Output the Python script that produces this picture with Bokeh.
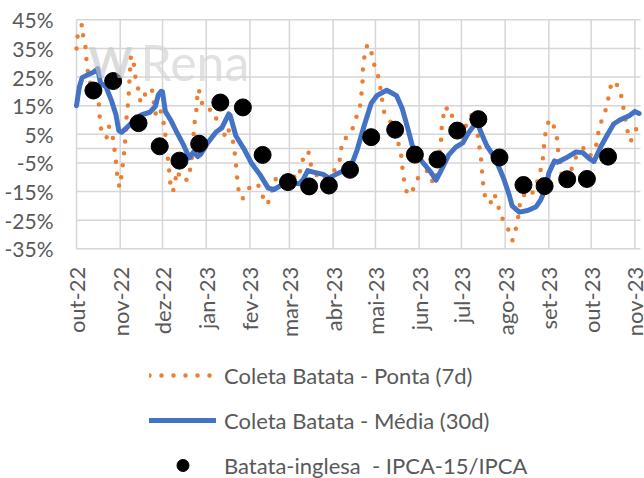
import math
import pandas as pd
from bokeh.plotting import figure
from bokeh.models import Range1d, Legend, LegendItem, Label
from bokeh.core.properties import value
from bokeh.embed import file_html
from bokeh.resources import INLINE

# ---------------- data (x = days since 2022-10-01) ----------------
START = "2022-10-01"
month_labels = ["out-22", "nov-22", "dez-22", "jan-23", "fev-23", "mar-23", "abr-23",
                "mai-23", "jun-23", "jul-23", "ago-23", "set-23", "out-23", "nov-23"]
y_ticks = [-35, -25, -15, -5, 5, 15, 25, 35, 45]
axis_cross = [0]
x_span = [0, 400]          # days covered by the value plot

ponta_days = [0, 0.9, 4.0, 4.7, 6.4, 7.1, 8.1, 9.5, 13.5, 15.8,
              16.3, 17.0, 19.4, 22.2, 23.0, 25.4, 26.5, 27.7, 28.4, 29.3,
              30.5, 31.9, 32.9, 34.0, 35.0, 35.5, 36.7, 37.2, 37.6, 38.1,
              38.6, 40.0, 41.2, 41.9, 44.0, 45.4, 47.7, 49.4, 53.6, 54.8,
              56.0, 58.3, 61.1, 62.3, 63.7, 64.2, 65.3, 66.0, 66.5, 68.4,
              70.1, 71.2, 73.6, 76.0, 78.3, 80.7, 81.9, 83.1, 83.8, 85.0,
              85.5, 86.7, 87.9, 90.7, 96.2, 98.6, 99.8, 102.2, 104.5, 106.4,
              108.8, 110.5, 111.7, 112.9, 113.6, 114.5, 115.3, 117.6, 120.0, 123.6,
              128.4, 131.5, 133.2, 135.5, 137.9, 140.2, 142.6, 146.1, 149.6, 153.2,
              156.8, 159.1, 161.0, 164.4, 165.8, 167.5, 169.8, 172.9, 176.9, 180.0,
              184.2, 186.4, 187.4, 188.6, 191.0, 195.7, 198.0, 201.0, 202.0, 202.8,
              203.0, 204.0, 205.1, 207.5, 209.2, 209.9, 212.2, 214.6, 215.8, 217.0,
              218.2, 220.5, 224.0, 227.1, 228.8, 230.5, 231.2, 232.3, 234.2, 237.5,
              239.9, 243.5, 248.9, 253.2, 256.5, 257.2, 258.4, 258.8, 260.3, 261.9,
              264.3, 265.5, 267.4, 270.2, 273.7, 277.3, 280.8, 284.4, 285.6, 286.8,
              287.5, 288.0, 289.1, 290.3, 294.3, 296.2, 298.6, 300.5, 303.3, 306.4,
              309.2, 311.1, 312.8, 315.1, 318.7, 322.2, 325.1, 328.2, 329.8, 331.2,
              331.7, 332.9, 335.3, 338.8, 340.7, 341.6, 343.1, 344.0, 347.1, 351.1,
              354.2, 360.1, 364.4, 368.4, 369.6, 372.0, 374.3, 376.7, 377.8, 380.2,
              384.5, 386.6, 388.0, 389.7, 391.0, 393.0, 395.5, 398.0]
ponta_vals = [35.0, 40.1, 43.4, 39.5, 35.4, 30.8, 26.7, 23.2, 20.3, 16.2,
              12.1, 7.7, 4.0, 4.0, 7.7, 5.2, 1.1, -3.0, -7.1, -11.1,
              -13.5, -9.4, -5.3, -0.1, 5.2, 11.6, 16.2, 20.3, 24.4, 28.4,
              32.5, 31.4, 27.9, 24.0, 20.5, 16.2, 16.8, 20.9, 20.3, 16.2,
              12.1, 14.5, 11.6, 6.9, 2.8, -1.3, -5.3, -9.4, -12.1, -15.2,
              -11.1, -7.7, -10.0, -9.4, -11.1, -7.1, -3.0, 5.2, 9.2, 13.3,
              17.4, 20.9, 17.4, 13.9, 13.5, 12.1, 8.0, 7.5, 4.0, 7.5,
              5.7, 4.0, 0.5, -4.2, -8.8, -12.3, -16.4, -17.6, -15.8, -12.9,
              -12.3, -15.6, -18.7, -19.5, -15.8, -11.7, -9.4, -10.6, -9.1, -9.4,
              -10.6, -7.1, -2.8, -0.9, -5.1, -7.1, -8.8, -11.1, -9.8, -8.5,
              -7.1, -5.0, -1.3, 3.0, 3.7, 6.9, 10.4, 14.5, 18.6, 22.6,
              27.1, 31.4, 35.4, 36.4, 33.7, 31.4, 27.5, 24.4, 20.3, 16.2,
              12.7, 10.7, 8.6, 4.6, 0.7, -3.0, -7.1, -11.1, -15.2, -16.1,
              -12.3, -9.1, -7.7, -12.3, -7.1, -2.4, 1.4, 6.5, 11.6, 14.7,
              12.1, 12.7, 9.8, 6.3, 4.0, 9.8, 12.1, 5.4, 1.1, -3.0,
              -7.1, -10.8, -14.6, -18.7, -18.7, -15.8, -18.7, -23.2, -25.4, -28.4,
              -32.1, -29.0, -25.5, -17.0, -15.8, -16.7, -13.5, -9.8, -5.9, -2.1,
              2.2, 6.3, 10.2, 7.5, 3.7, -0.7, -4.7, -9.1, -11.7, -7.1,
              -3.0, 0.5, -2.4, 0.5, 4.6, 9.2, 12.1, 15.6, 20.1, 23.6,
              21.7, 18.0, 13.9, 9.2, 5.7, 2.5, 5.2, 8.1]

media_days = [0, 2, 4, 8, 12, 14, 15, 17, 21, 25,
              28, 30, 32, 36, 40, 46, 52, 56, 58, 60,
              61, 63, 67, 71, 76, 80, 83, 86, 88, 93,
              99, 103, 108, 109, 113, 119, 124, 130, 136, 140,
              145, 152, 158, 161, 164, 168, 175, 179, 184, 189,
              195, 199, 204, 209, 213, 220, 227, 231, 235, 239,
              245, 251, 255, 258, 264, 269, 274, 278, 284, 287,
              291, 297, 303, 307, 309, 314, 320, 326, 329, 333,
              335, 339, 341, 347, 354, 359, 364, 367, 372, 377,
              381, 385, 388, 392, 396, 399]
media_vals = [15.0, 21.5, 24.8, 25.8, 26.7, 27.5, 27.9, 23.0, 21.5, 16.5,
              11.8, 6.3, 5.7, 7.5, 9.5, 11.8, 12.7, 14.8, 18.8, 20.0,
              19.8, 13.0, 9.8, 5.8, 1.2, -3.2, -1.2, -2.8, -2.0, 2.0,
              5.8, 7.2, 12.1, 11.6, 4.5, -0.3, -5.0, -9.0, -13.8, -14.3,
              -12.9, -11.9, -12.3, -10.6, -7.7, -8.2, -9.0, -10.3, -9.0, -7.8,
              -5.8, -0.5, 8.0, 15.8, 18.5, 20.4, 18.5, 14.0, 7.0, -0.5,
              -4.5, -8.0, -11.0, -8.2, -2.2, 0.5, 2.0, 5.5, 9.5, 5.5,
              1.0, -3.4, -10.5, -16.4, -20.0, -22.2, -21.6, -20.3, -18.1, -13.5,
              -8.5, -4.3, -4.8, -3.3, -1.2, -1.4, -3.6, -4.5, 0.8, 5.3,
              8.6, 9.9, 10.6, 11.5, 13.0, 12.3]

ipca_days = [12, 26, 44, 59, 73, 87, 102, 118, 132, 150, 165, 179, 194,
             209, 226, 240, 256, 270, 285, 300, 317, 332, 348, 362, 377]
ipca_vals = [20.3, 23.6, 8.9, 0.8, -4.2, 1.7, 16.1, 14.4, -2.2, -11.7, -13.2, -12.9, -7.4,
             4.0, 6.6, -2.1, -3.8, 6.3, 10.3, -3.1, -12.7, -13.1, -10.7, -10.6, -2.8]

series_labels = ["Coleta Batata - Ponta (7d)", "Coleta Batata - Média (30d)",
                 "Batata-inglesa  - IPCA-15/IPCA"]

month_days = [int(d) for d in
              (pd.date_range(START, "2023-11-01", freq="MS") - pd.Timestamp(START)).days]
y_labels = [f"{t}%" for t in y_ticks]

# ---------------- layout (pixels) ----------------
W, H = 644, 478
PLOT_LEFT, PLOT_TOP, PLOT_W, PLOT_H = 76, 19.3, 564, 229
Y_MIN, Y_MAX = y_ticks[0], y_ticks[-1]
px_day = PLOT_W / (x_span[1] - x_span[0])
px_pct = PLOT_H / (Y_MAX - Y_MIN)
X_START = x_span[0] - PLOT_LEFT / px_day
X_END = x_span[0] + (W - PLOT_LEFT) / px_day
Y_TOP = Y_MAX + PLOT_TOP / px_pct
Y_BOTTOM = Y_MIN - (H - PLOT_TOP - PLOT_H) / px_pct

FONT = "Lato"
TXT = "#595959"
GRID = "#d6d6d6"
ORANGE, BLUE = "#ED7D31", "#4472C4"
FS = "22px"

p = figure(width=W, height=H, output_backend="svg", toolbar_location=None,
           x_range=Range1d(X_START, X_END), y_range=Range1d(Y_BOTTOM, Y_TOP),
           x_axis_location=None, y_axis_location=None,
           min_border_left=0, min_border_right=0, min_border_top=0,
           min_border_bottom=0)
p.outline_line_color = None
p.background_fill_color = None
p.border_fill_color = None
p.xgrid.visible = False
p.ygrid.visible = False

# grid lines, drawn as thin filled bars
n_y, n_m = len(y_ticks), len(month_days)
x_mid = (x_span[0] + x_span[1]) / 2
y_mid = (Y_MIN + Y_MAX) / 2
p.rect(x=[x_mid] * n_y, y=y_ticks, width=x_span[1] - x_span[0], height=1.5,
       height_units="screen", fill_color=GRID, line_color=None)
p.rect(x=[x_mid], y=axis_cross, width=x_span[1] - x_span[0], height=1.5,
       height_units="screen", fill_color=GRID, line_color=None)
p.rect(x=month_days, y=[y_mid] * n_m, width=1.5, width_units="screen",
       height=Y_MAX - Y_MIN, fill_color=GRID, line_color=None)

# tick labels
p.text(x=[x_span[0]] * n_y, y=y_ticks, text=y_labels, text_align="right",
       text_baseline="middle", x_offset=-23, text_font=value(FONT),
       text_font_size=value("21px"), text_color=TXT)
p.text(x=month_days, y=[Y_MIN] * n_m, text=month_labels,
       angle=math.pi / 2, text_align="right", text_baseline="middle",
       y_offset=18, text_font=value(FONT), text_font_size=value(FS),
       text_color=TXT)

# watermark
p.add_layout(Label(x=8.5, y=30.2, text="W", text_font=FONT,
                   text_font_style="bold", text_font_size="42px",
                   text_baseline="alphabetic",
                   text_color="#c4c4c4", text_alpha=0.6))
p.add_layout(Label(x=45.4, y=30.2, text="Rena", text_font=FONT,
                   text_font_size="50px", text_baseline="alphabetic",
                   text_color="#d4d4d4", text_alpha=0.7))

r_ponta = p.line(ponta_days, ponta_vals, line_color=ORANGE, line_width=4.5,
                 line_dash="0 12", line_cap="round", line_join="round")
r_media = p.line(media_days, media_vals, line_color=BLUE, line_width=5,
                 line_cap="round", line_join="round")
r_ipca = p.scatter(ipca_days, ipca_vals, size=17, fill_color="black",
                   line_color="black")

legend = Legend(items=[LegendItem(label=lab, renderers=[r])
                       for lab, r in zip(series_labels, [r_ponta, r_media, r_ipca])],
                location=(149, -2), orientation="vertical",
                glyph_width=67, glyph_height=30, label_height=30, spacing=15,
                padding=0, margin=0, label_standoff=8,
                border_line_color=None, background_fill_alpha=0,
                label_text_font=FONT, label_text_font_size=FS,
                label_text_color=TXT)
p.add_layout(legend)

open("out.html", "w").write(file_html(p, INLINE))
